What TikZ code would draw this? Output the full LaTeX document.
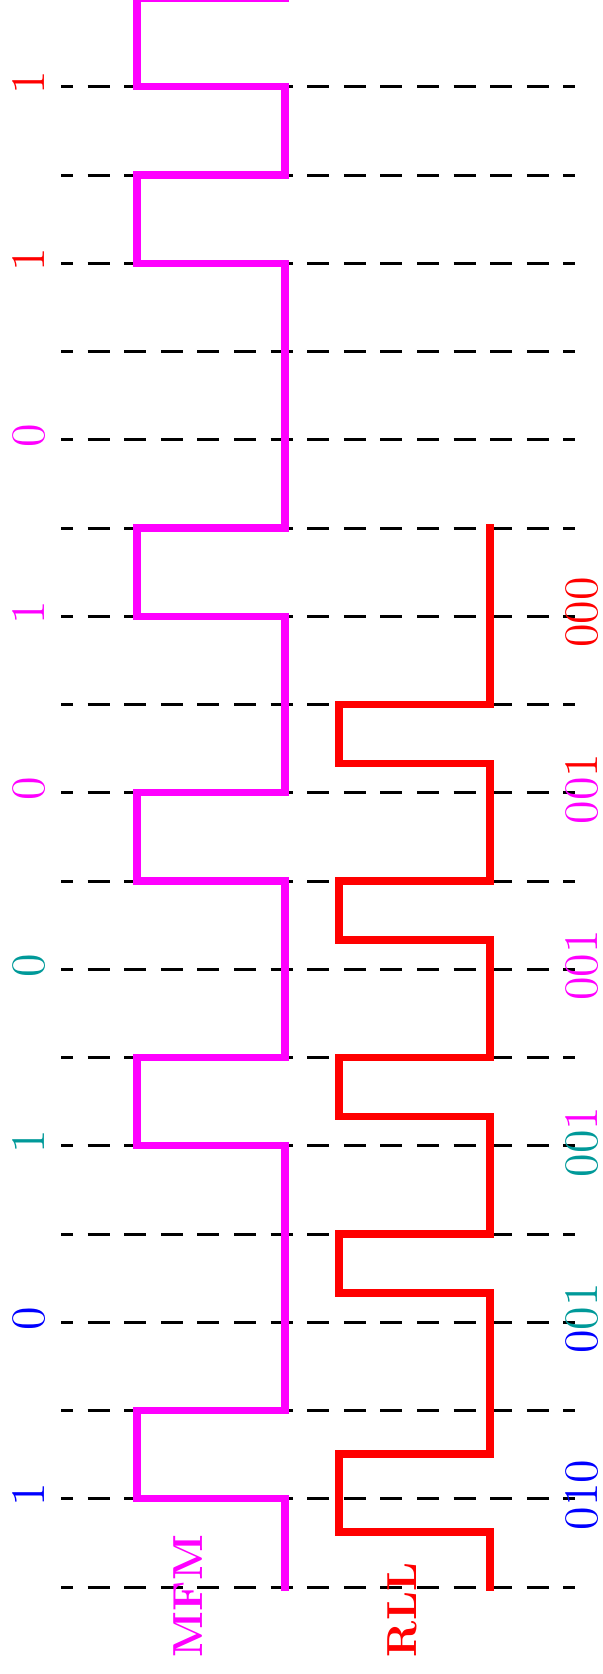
\documentclass[tikz,border=0pt]{standalone}
\usepackage{xcolor}
\definecolor{tealc}{RGB}{0,153,153}
\definecolor{magc}{RGB}{255,0,255}
\definecolor{redc}{RGB}{255,0,0}
\definecolor{bluec}{RGB}{0,0,255}
\begin{document}
\begin{tikzpicture}[x=0.25pt,y=-0.25pt,
  gridline/.style={black, line width=0.75pt, dash pattern=on 5.5pt off 3.65pt, dash phase=2.5pt},
  wave/.style={line width=1.85pt, line cap=rect, line join=miter},
  bitlbl/.style={rotate=90, inner sep=0pt, font=\fontsize{12}{14}\selectfont},
  namelbl/.style={rotate=90, inner sep=0pt, anchor=west, font=\fontsize{10.5}{12}\selectfont\bfseries}]
\useasboundingbox (0,0) rectangle (602,1674);

% dashed time grid
\foreach \k in {0,...,17}
  \draw[gridline] (61,{86.75+88.25*\k}) -- (575,{86.75+88.25*\k});

% MFM waveform
\draw[wave, magc] (285,1587) -- (285,1498.75) -- (137,1498.75) -- (137,1410.5) -- (285,1410.5)
  -- (285,1145.75) -- (137,1145.75) -- (137,1057.5) -- (285,1057.5)
  -- (285,881) -- (137,881) -- (137,792.75) -- (285,792.75)
  -- (285,616.25) -- (137,616.25) -- (137,528) -- (285,528)
  -- (285,263.25) -- (137,263.25) -- (137,175) -- (285,175)
  -- (285,86.75) -- (137,86.75) -- (137,-1.5) -- (285,-1.5);

% RLL waveform
\draw[wave, redc] (490,1587) -- (490,1532) -- (339,1532) -- (339,1454) -- (490,1454)
  -- (490,1292.8) -- (339,1292.8) -- (339,1234) -- (490,1234)
  -- (490,1116.3) -- (339,1116.3) -- (339,1057.5) -- (490,1057.5)
  -- (490,939.8) -- (339,939.8) -- (339,881) -- (490,881)
  -- (490,763.3) -- (339,763.3) -- (339,704.5) -- (490,704.5)
  -- (490,528);

% data bits
\node[bitlbl, text=redc]  (d8) at (29,82.75)   {1};
\node[bitlbl, text=redc]  (d7) at (29,259.25)  {1};
\node[bitlbl, text=magc]  (d6) at (29,435.75)  {0};
\node[bitlbl, text=magc]  (d5) at (29,612.25)  {1};
\node[bitlbl, text=magc]  (d4) at (29,788.75)  {0};
\node[bitlbl, text=tealc] (d3) at (29,965.25)  {0};
\node[bitlbl, text=tealc] (d2) at (29,1141.75) {1};
\node[bitlbl, text=bluec] (d1) at (29,1318.25) {0};
\node[bitlbl, text=bluec] (d0) at (29,1494.75) {1};

% RLL code triplets
\node[bitlbl] (c0) at (582,1494.75) {\textcolor{bluec}{010}};
\node[bitlbl] (c1) at (582,1318.25) {\textcolor{bluec}{0}\textcolor{tealc}{01}};
\node[bitlbl] (c2) at (582,1141.75) {\textcolor{tealc}{00}\textcolor{magc}{1}};
\node[bitlbl] (c3) at (582,965.25)  {\textcolor{magc}{001}};
\node[bitlbl] (c4) at (582,788.75)  {\textcolor{magc}{00}\textcolor{redc}{1}};
\node[bitlbl] (c5) at (582,612.25)  {\textcolor{redc}{000}};

% names
\node[namelbl, text=magc] (mfm) at (188,1658) {MFM};
\node[namelbl, text=redc] (rll) at (402,1658) {RLL};
\end{tikzpicture}
\end{document}
